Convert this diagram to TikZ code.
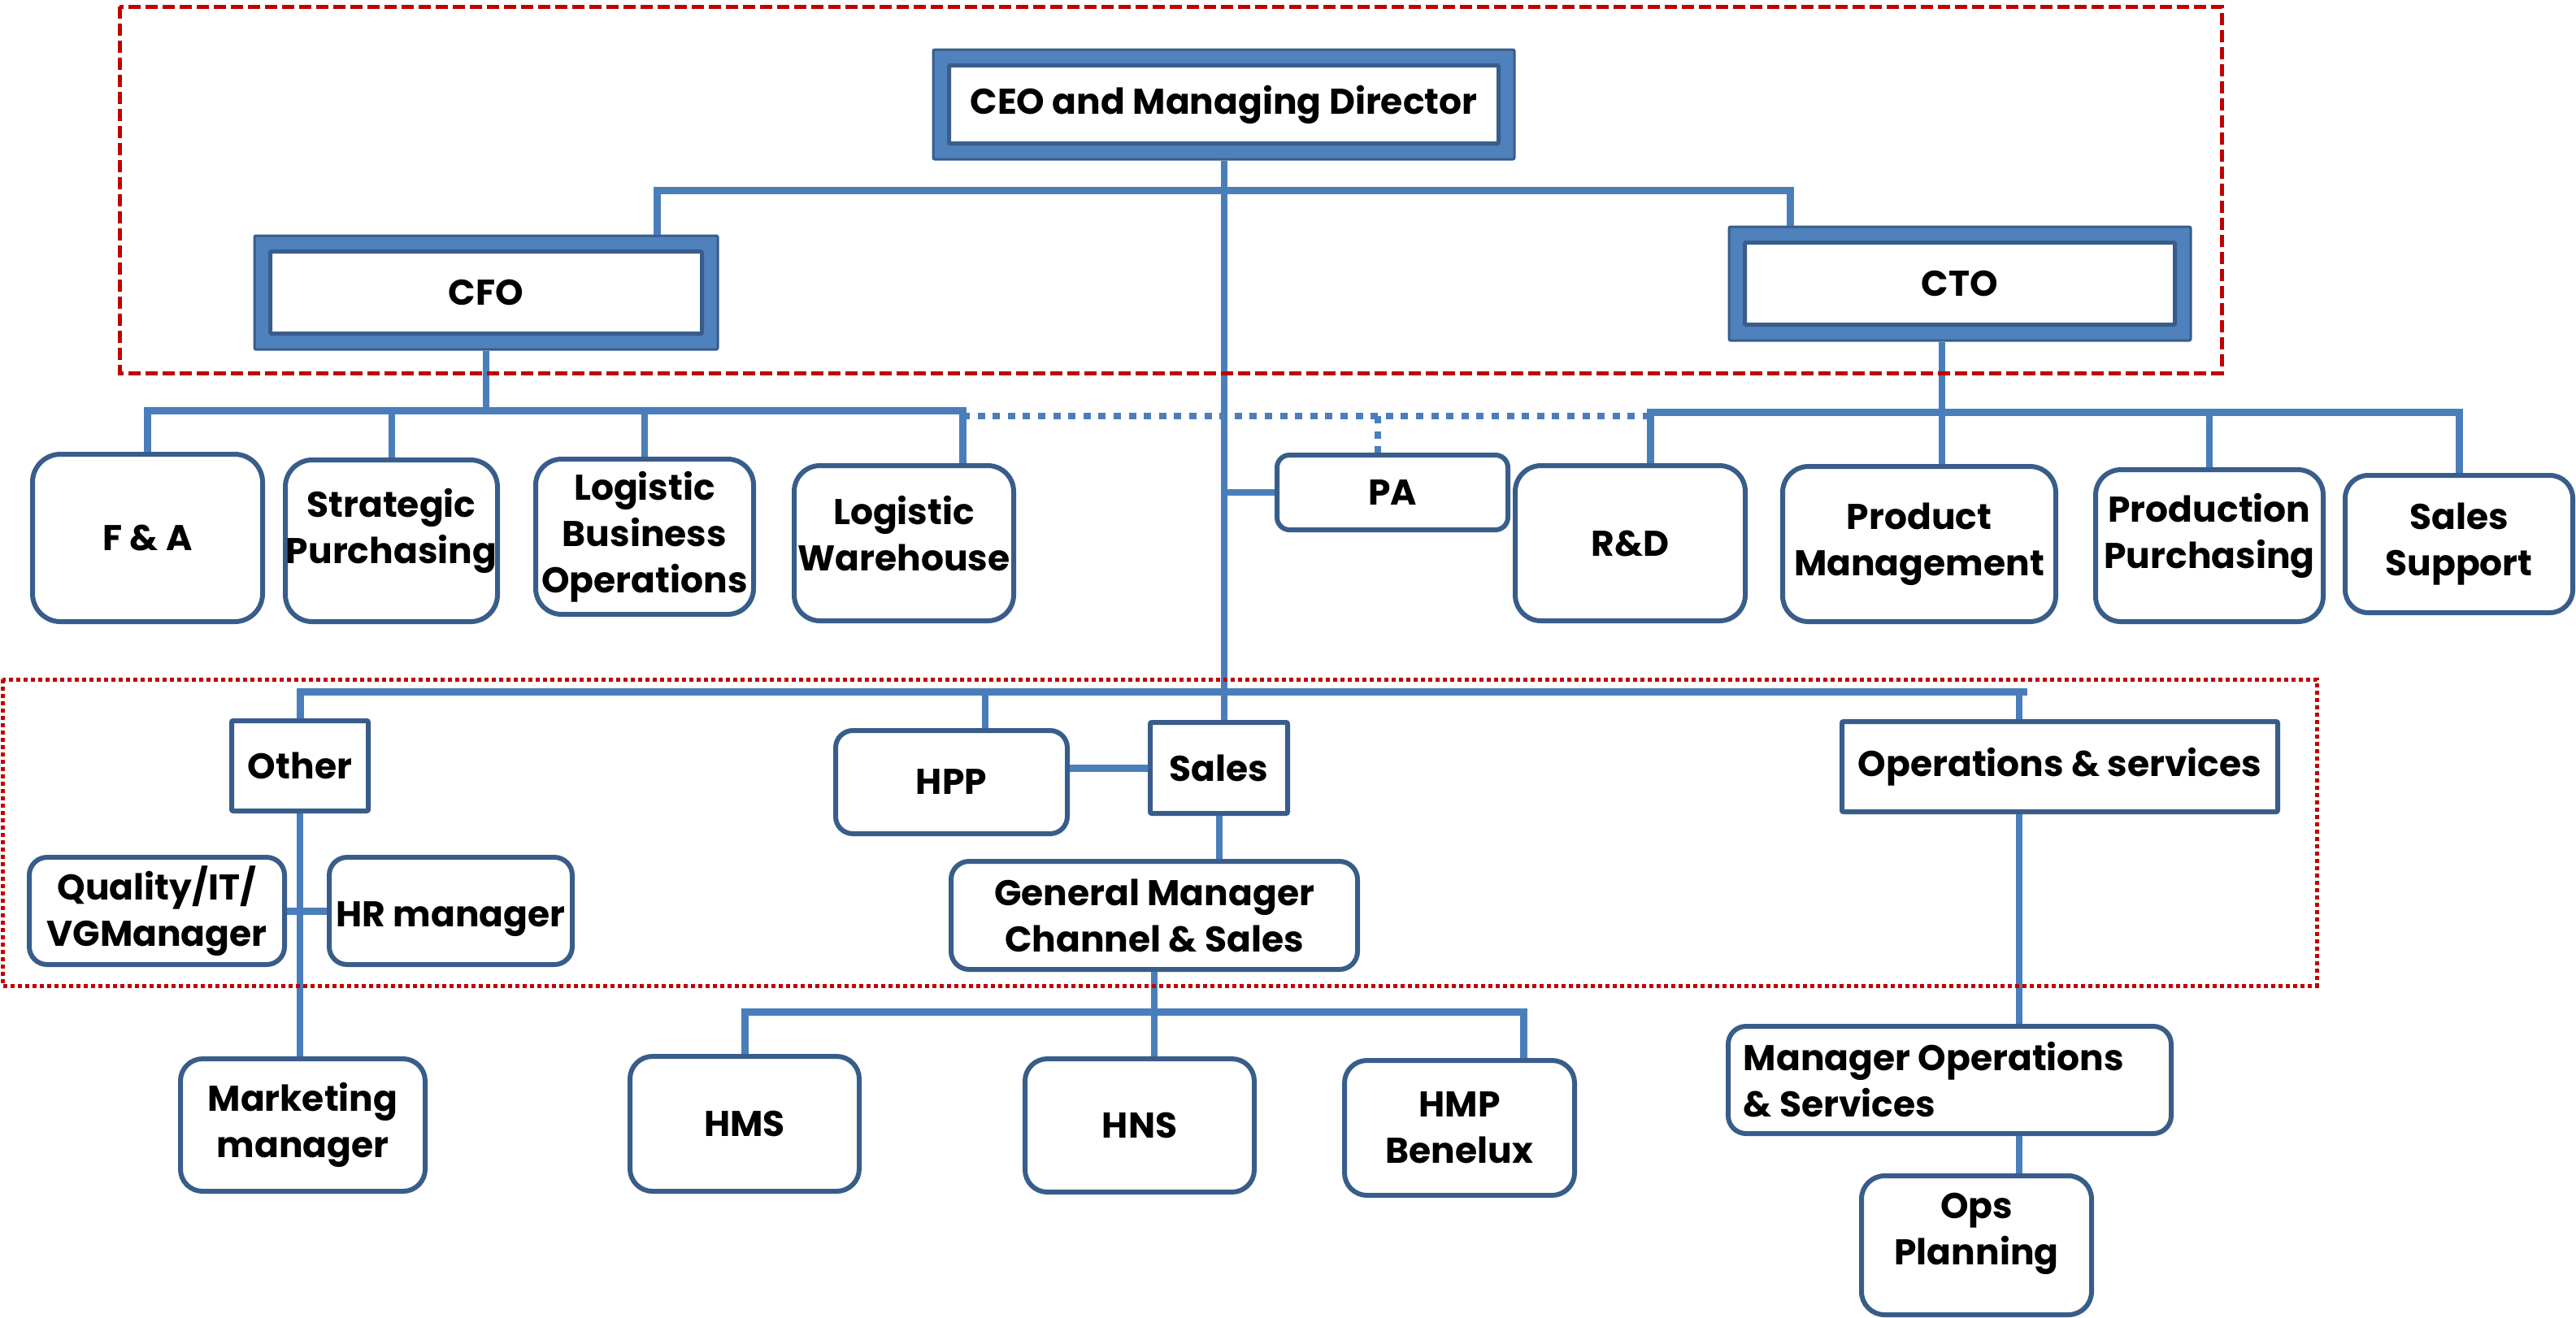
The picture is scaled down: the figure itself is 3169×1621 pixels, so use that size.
\documentclass[tikz,border=0pt]{standalone}
\usepackage{fontspec}
\setmainfont{Poppins}
\definecolor{boxdark}{HTML}{385D8A}
\definecolor{linecol}{HTML}{4A7EBB}
\definecolor{bandcol}{HTML}{4F81BD}
\definecolor{redline}{HTML}{C00000}
\tikzset{
 every node/.style={font=\bfseries\fontsize{11}{14.25}\selectfont, align=center, inner sep=0pt},
 rbox/.style={draw=boxdark, line width=1.5pt, fill=white},
 sbox/.style={draw=boxdark, line width=1.5pt, fill=white, rounded corners=0.5pt},
 bandbox/.style={draw=boxdark, line width=0.75pt, fill=bandcol, rounded corners=0.5pt},
 innerbox/.style={draw=boxdark, line width=1.25pt, fill=white, rounded corners=0.3pt},
 conn/.style={draw=linecol, line width=2pt},
 bar/.style={draw=linecol, line width=2.25pt},
 dotconn/.style={draw=linecol, line width=2pt, dash pattern=on 2.25pt off 2.4pt},
 redDash/.style={draw=redline, line width=1.25pt, dash pattern=on 3.75pt off 1.5pt},
 redDot/.style={draw=redline, line width=1.25pt, dash pattern=on 1.25pt off 1pt},
 boxtext/.style={},
}
\newcommand{\bx}[7]{%
 \pgfmathsetmacro\bxrad{min(#5-#3,#6-#4)/6*0.25}%
 \node[rounded corners=\bxrad pt, #1, minimum width={(#5-#3)*0.25pt}, minimum height={(#6-#4)*0.25pt}] (#2) at ({(#3+#5)/2},{(#4+#6)/2}) {#7};}
\begin{document}
\begin{tikzpicture}[x=0.25pt,y=-0.25pt]
\useasboundingbox (0,0) rectangle (3169,1621);
% top level
\bx{bandbox}{ceoband}{1148}{61}{1863}{196}{}
\bx{innerbox}{ceo}{1167.5}{80.5}{1843.5}{176.5}{CEO and Managing Director}
\bx{bandbox}{cfoband}{313}{290}{883}{430}{}
\bx{innerbox}{cfo}{332.5}{309.5}{863.5}{410.5}{CFO}
\bx{bandbox}{ctoband}{2127}{279}{2695}{419}{}
\bx{innerbox}{cto}{2146.5}{298.5}{2675.5}{399.5}{CTO}
% second row
\bx{rbox}{fa}{40}{559}{323}{765}{F \& A}
\bx{rbox}{sp}{351}{566}{612}{765}{}
\node[boxtext] at ([yshift=3pt]sp.center) {Strategic\\Purchasing};
\bx{rbox}{lbo}{659}{565}{927}{756}{Logistic\\Business\\Operations}
\bx{rbox}{lw}{977}{573}{1247}{764}{}
\node[boxtext] at ([yshift=3pt]lw.center) {Logistic\\Warehouse};
\bx{rbox}{pa}{1571}{560}{1855}{652}{PA}
\bx{rbox}{rd}{1864}{573}{2147}{764}{R\&D}
\bx{rbox}{pm}{2193}{574}{2529}{765}{Product\\Management}
\bx{rbox}{pp}{2578}{578}{2858}{765}{}
\node[boxtext] at ([yshift=3pt]pp.center) {Production\\Purchasing};
\bx{rbox}{ss}{2885}{585}{3165}{754}{Sales\\Support}
% third row
\bx{sbox}{other}{285}{887}{453}{998}{Other}
\bx{rbox}{hpp}{1028}{899}{1313}{1026}{HPP}
\bx{sbox}{sales}{1415}{889}{1584}{1001}{Sales}
\bx{sbox}{ops}{2266}{888}{2802}{999}{Operations \& services}
\bx{rbox}{qual}{36}{1055}{350}{1187}{Quality/IT/\\VGManager}
\bx{rbox}{hr}{405}{1055}{704}{1187}{}
\node[boxtext] at ([yshift=-2.5pt]hr.center) {HR manager};
\bx{rbox}{gm}{1170}{1060}{1670}{1193}{General Manager\\Channel \& Sales}
\bx{rbox}{mgr}{2126}{1263}{2671}{1395}{}
\node[boxtext, align=left, anchor=west] at ([xshift=5.25pt]mgr.west) {Manager Operations\\\& Services};
\bx{rbox}{opsplan}{2290}{1447}{2573}{1618}{}
\node[boxtext] at ([yshift=3.5pt]opsplan.center) {Ops\\Planning};
\bx{rbox}{mkt}{222}{1303}{523}{1466}{Marketing\\manager}
\bx{rbox}{hms}{775}{1300}{1057}{1466}{HMS}
\bx{rbox}{hns}{1261}{1303}{1543}{1467}{HNS}
\bx{rbox}{hmp}{1654}{1305}{1937}{1471}{HMP\\Benelux}
% junction coordinates
\coordinate (tl) at (808,234);
\coordinate (tr) at (2202,234);
\coordinate (cfobarL) at (182,505);
\coordinate (cfobarR) at (1184,505);
\coordinate (ctobarL) at (2030,507);
\coordinate (ctobarR) at (3019,507);
\coordinate (ctov) at (2389,507);
\coordinate (pav) at (1695,512);
\coordinate (botL) at (372,851);
\coordinate (botR) at (2484,851);
\coordinate (botEnd) at (2494,851);
\coordinate (hppv) at (1212,851);
\coordinate (gmbarL) at (919,1245);
\coordinate (gmbarR) at (1874,1245);
% connectors
\draw[bar] (tl |- cfoband.north) -- (tl) -- (tr) -- (tr |- ctoband.north);
\draw[conn] (ceoband.south) -- (ceoband.south |- sales.north);
\draw[bar] (fa.north) -- (fa.north |- cfobarL) -- (cfobarR) -- (cfobarR |- lw.north);
\draw[conn] (cfoband.south) -- (cfoband.south |- cfobarL);
\draw[conn] (sp.north) -- (sp.north |- cfobarL);
\draw[conn] (lbo.north) -- (lbo.north |- cfobarL);
\draw[dotconn] (cfobarR |- pav) -- (ctobarL |- pav);
\draw[dotconn] (pav) -- (pav |- pa.north);
\draw[conn] (pa.west) -- (pa.west -| ceoband.south);
\draw[bar] (ss.north) -- (ss.north |- ctobarR) -- (ctobarL) -- (ctobarL |- rd.north);
\draw[conn] (pp.north) -- (pp.north |- ctobarR);
\draw[conn] (ctov |- ctoband.south) -- (ctov |- pm.north);
\draw[bar] (other.north) -- (other.north |- botL) -- (botEnd);
\draw[conn] (botR) -- (botR |- ops.north);
\draw[conn] (hppv) -- (hppv |- hpp.north);
\draw[bar] (sales.west) -- (sales.west -| hpp.east);
\draw[conn] (sales.south) -- (sales.south |- gm.north);
\draw[bar] (hms.north) -- (hms.north |- gmbarL) -- (gmbarR) -- (gmbarR |- hmp.north);
\draw[conn] (gm.south) -- (gm.south |- hns.north);
\draw[conn] (botR |- ops.south) -- (botR |- mgr.north);
\draw[conn] (botR |- mgr.south) -- (botR |- opsplan.north);
\draw[conn] (other.south) -- (other.south |- mkt.north);
\draw[bar] (qual.east) -- (hr.west);
% red frames
\draw[redDash] (147,8) rectangle (2733,459);
\draw[redDot] (3,836) rectangle (2850,1213);
\end{tikzpicture}
\end{document}
